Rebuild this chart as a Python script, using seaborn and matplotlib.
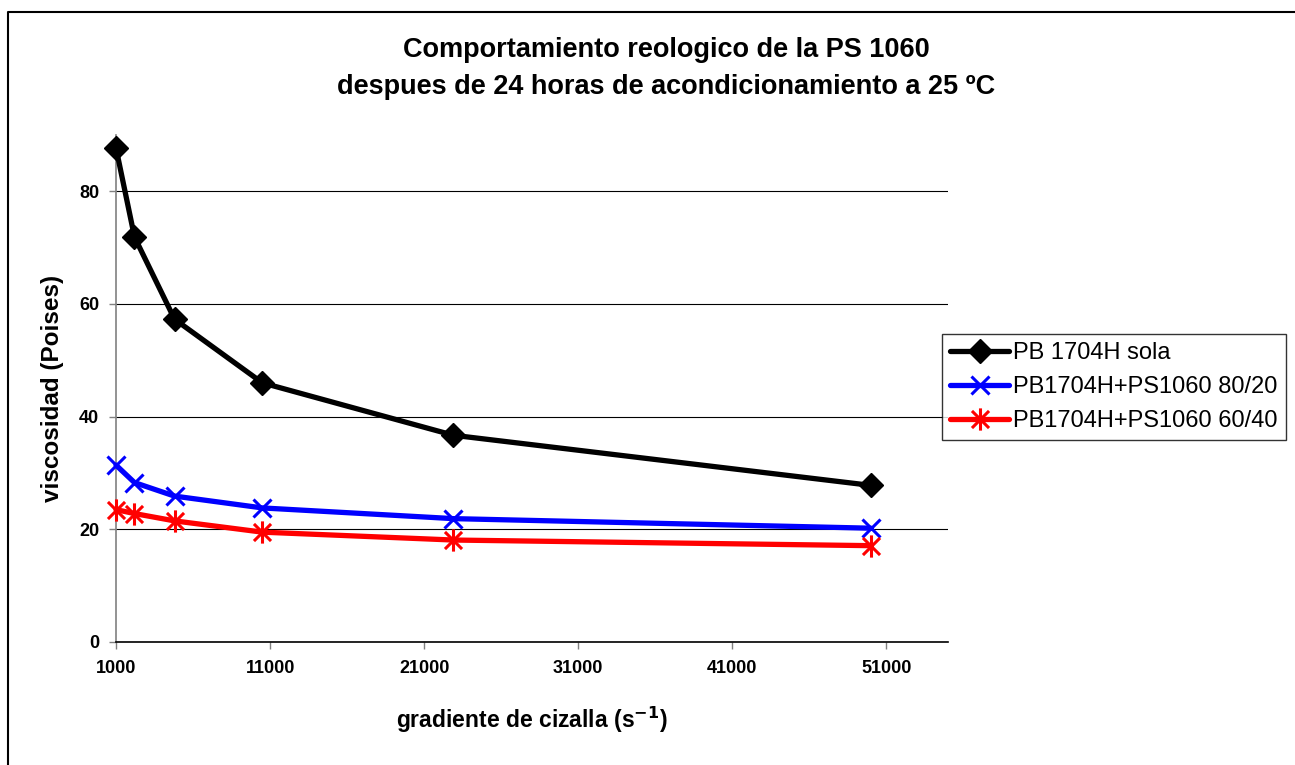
import numpy as np
import pandas as pd
import matplotlib
matplotlib.use('Agg')
import matplotlib.pyplot as plt
import seaborn as sns
from matplotlib.lines import Line2D
from matplotlib.path import Path

# shear rate (1/s) and viscosity (Poises)
gradiente = [1000, 2200, 4800, 10500, 22900, 50000]
pb_sola = [87.7, 71.9, 57.3, 46.0, 36.7, 27.8]
mezcla_80_20 = [31.4, 28.3, 25.9, 23.8, 21.9, 20.2]
mezcla_60_40 = [23.5, 22.8, 21.5, 19.5, 18.1, 17.1]

series = ["PB 1704H sola", "PB1704H+PS1060 80/20", "PB1704H+PS1060 60/40"]
valores = [pb_sola, mezcla_80_20, mezcla_60_40]
colores = ["black", "#0000FF", "#FF0000"]

# Excel style asterisk: an X plus a vertical stroke
asterisco = Path([(-1, -1), (1, 1), (-1, 1), (1, -1), (0, -1.3), (0, 1.3)],
                 [Path.MOVETO, Path.LINETO, Path.MOVETO, Path.LINETO, Path.MOVETO, Path.LINETO])
marcadores = ["D", "x", asterisco]
tamanos = [12, 13.5, 16]
bordes = [1, 2.2, 2.2]

sns.set_theme(style="white")
plt.rcParams['font.family'] = ['Liberation Sans', 'DejaVu Sans']
plt.rcParams['text.color'] = 'black'
plt.rcParams['axes.labelcolor'] = 'black'
plt.rcParams['xtick.color'] = 'black'
plt.rcParams['ytick.color'] = 'black'

fig = plt.figure(figsize=(12.95, 7.65), dpi=100)
ax = fig.add_axes([116 / 1295, 1 - 642 / 765, (948 - 116) / 1295, (642 - 135) / 765])

for nombre, vals, col, mk, ms, mew in zip(series, valores, colores, marcadores, tamanos, bordes):
    df = pd.DataFrame({"x": gradiente, "y": vals})
    sns.lineplot(data=df, x="x", y="y", ax=ax, color=col, lw=3.8,
                 marker=mk, markersize=ms, markeredgewidth=mew,
                 markeredgecolor=col, markerfacecolor=col, label=nombre,
                 clip_on=False, zorder=3)

ax.set_xlim(1000, 55000)
ax.set_ylim(0, 90)
ax.set_xticks(np.arange(1000, 51001, 10000))
ax.set_yticks(np.arange(0, 81, 20))
ax.yaxis.grid(True, color="black", lw=0.8)
ax.xaxis.grid(False)
ax.set_axisbelow(True)
for s in ["top", "right"]:
    ax.spines[s].set_visible(False)
ax.spines["left"].set_color("#808080")
ax.spines["left"].set_linewidth(1.2)
ax.spines["bottom"].set_color("black")
ax.spines["bottom"].set_linewidth(1.2)
ax.tick_params(axis="x", direction="out", length=5, width=1, color="#808080",
               pad=8, labelsize=13, bottom=True)
ax.tick_params(axis="y", direction="out", length=5, width=1, color="#808080",
               pad=7, labelsize=13, left=True)
for lab in ax.get_xticklabels() + ax.get_yticklabels():
    lab.set_fontweight("bold")

ax.set_xlabel("gradiente de cizalla (s$^{\\mathbf{-1}}$)", fontsize=16.5,
              fontweight="bold", labelpad=20)
ax.set_ylabel("viscosidad (Poises)", fontsize=17.5, fontweight="bold", labelpad=11)

fig.text(666 / 1295, 1 - 50 / 765, "Comportamiento reologico de la PS 1060",
         ha="center", va="center", fontsize=19.5, fontweight="bold")
fig.text(666 / 1295, 1 - 87 / 765, "despues de 24 horas de acondicionamiento a 25 ºC",
         ha="center", va="center", fontsize=19.5, fontweight="bold")

ax.get_legend().remove()
handles, labels = ax.get_legend_handles_labels()
leg = fig.legend(handles, labels, loc="upper left",
                 bbox_to_anchor=(942 / 1295, 1 - 334 / 765), borderaxespad=0,
                 fontsize=17, frameon=True, fancybox=False, handlelength=2.5,
                 handletextpad=0.15, borderpad=0.35, labelspacing=0.5)
leg.get_frame().set_edgecolor("black")
leg.get_frame().set_linewidth(1.0)

# chart area border (only left and top visible)
fig.add_artist(Line2D([8 / 1295, 8 / 1295, 1], [0, 1 - 12 / 765, 1 - 12 / 765],
                      transform=fig.transFigure, color="black", lw=1.5))

fig.savefig("out.png", dpi=100)
